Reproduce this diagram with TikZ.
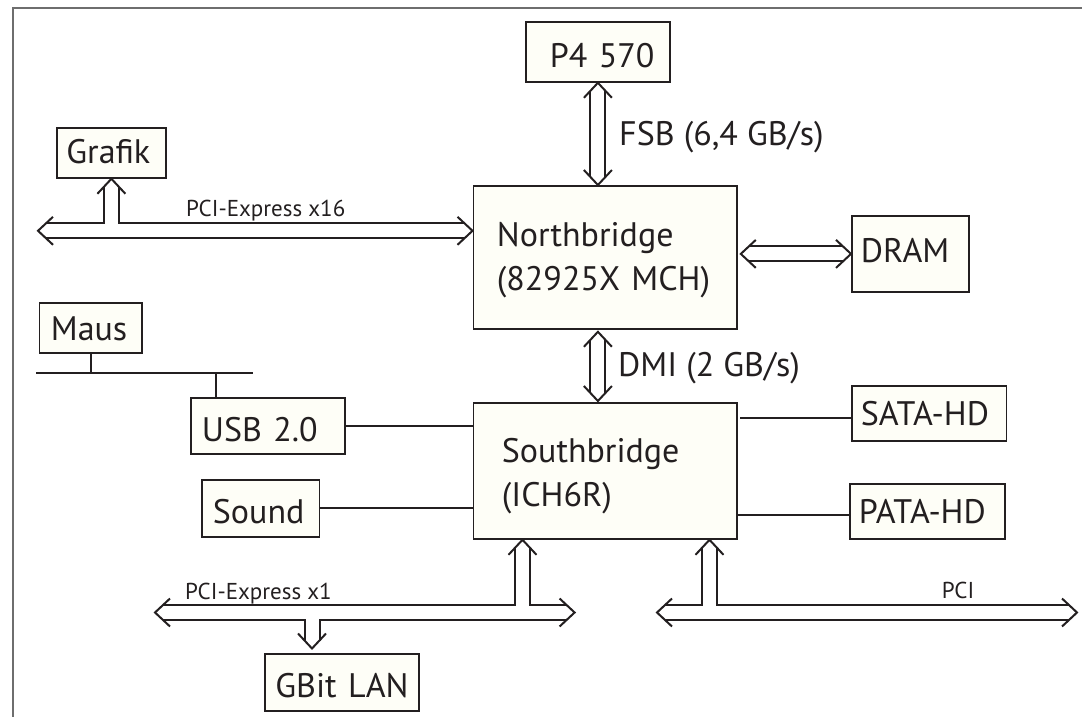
\documentclass[tikz,border=0pt]{standalone}
\usepackage{fontspec}
\setmainfont{PT Sans}
\usetikzlibrary{calc}
\definecolor{ink}{HTML}{231F20}
\definecolor{boxfill}{HTML}{FEFEF7}
\definecolor{framegray}{HTML}{6E6E6E}
\begin{document}
\begin{tikzpicture}[x=1pt,y=-1pt,
  every node/.style={text=ink},
  box/.style={draw=ink, line width=1.8pt, fill=boxfill, anchor=north west, align=left, inner ysep=0pt, font=\fontsize{34}{44}\selectfont},
  bus/.style={draw=ink, line width=2pt, double=white, double distance=13pt},
  wire/.style={draw=ink, line width=2pt},
  lbl/.style={anchor=base west, inner sep=0pt, font=\fontsize{34}{40}\selectfont},
  slbl/.style={anchor=base west, inner sep=0pt, font=\fontsize{23}{28}\selectfont},
  chev/.pic={\draw[ink, line width=2pt, line join=miter] (-15,-14) -- (0,0) -- (-15,14);}
]
\useasboundingbox (0,0) rectangle (1082,717);
% frame
\draw[framegray, line width=2pt] (12.5,717) -- (12.5,8.5) -- (1082,8.5);

% boxes
\node[box, text width=96pt, inner xsep=24pt, minimum height=60pt, text height=32pt, text depth=0pt] (p4) at (525,21) {P4~570};
\node[box, text width=90pt, inner xsep=9.5pt, minimum height=50pt, text height=22pt, text depth=0pt] (grafik) at (56,127) {Grafik};
\node[box, text width=79.6pt, inner xsep=11.4pt, minimum height=50pt, text height=26pt, text depth=0pt] (maus) at (38.6,302) {Maus};
\node[box, text width=216.5pt, inner xsep=23.5pt, minimum height=143pt, text height=0pt, text depth=22pt] (nb) at (472.5,185) {Northbridge\\(82925X~MCH)};
\node[box, text width=99pt, inner xsep=9pt, minimum height=76pt, text height=18pt, text depth=0pt] (dram) at (851,215) {DRAM};
\node[box, text width=132pt, inner xsep=11pt, minimum height=56pt, text height=32pt, text depth=0pt] (usb) at (190,397) {USB~2.0};
\node[box, text width=95.5pt, inner xsep=11pt, minimum height=57pt, text height=31pt, text depth=0pt] (sound) at (201,479) {Sound};
\node[box, text width=206.5pt, inner xsep=28.5pt, minimum height=136pt, text height=0pt, text depth=16pt] (sb) at (472.5,402) {Southbridge\\(ICH6R)};
\node[box, text width=136.5pt, inner xsep=9pt, minimum height=55pt, text height=25pt, text depth=0pt] (sata) at (851,385) {SATA-HD};
\node[box, text width=137pt, inner xsep=9pt, minimum height=55pt, text height=25pt, text depth=0pt] (pata) at (849,483) {PATA-HD};
\node[box, text width=133pt, inner xsep=10.5pt, minimum height=57pt, text height=31pt, text depth=0pt] (gbit) at (264,653) {GBit~LAN};

% labels
\node[lbl] (fsb) at (619,145) {FSB (6,4 GB/s)};
\node[lbl] (dmi) at (618,376) {DMI (2 GB/s)};
\node[slbl] (lx16) at (186,216) {PCI-Express x16};
\node[slbl] (lx1) at (185,599) {PCI-Express x1};
\node[slbl] (lpci) at (941.7,598) {PCI};

% named free ends
\coordinate (x16L) at (38,230.8);
\coordinate (x1L) at (155,612.5);
\coordinate (x1R) at (574.6,612.5);
\coordinate (x1Up) at (522.5,612.5);
\coordinate (lanTip) at (312,648.5);
\coordinate (pciL) at (657,612.5);
\coordinate (pciR) at (1077,612.5);
\coordinate (pciUp) at (709.5,612.5);
\coordinate (mausBusL) at (36,373);
\coordinate (mausBusR) at (253,373);
\coordinate (usbRiser) at (216,373);
\coordinate (sataY) at (740,418);
\coordinate (pataY) at (738,515);

% plain wires
\draw[wire] (mausBusL) -- (mausBusR);
\draw[wire] (maus.south) -- (maus.south|-mausBusL);
\draw[wire] (usbRiser) -- (usbRiser|-usb.north);
\draw[wire] (usb.east) -- (sb.west|-usb.east);
\draw[wire] (sound.east) -- (sb.west|-sound.east);
\draw[wire] (sataY) -- (sata.west|-sataY);
\draw[wire] (pataY) -- (pata.west|-pataY);

% FSB
\draw[bus] ($(p4.south)+(0,8)$) -- ($(p4.south|-nb.north)+(0,-8)$);
\pic[rotate=90] at (p4.south) {chev};
\pic[rotate=-90] at (p4.south|-nb.north) {chev};
% DMI
\draw[bus] ($(p4.south|-nb.south)+(0,10)$) -- ($(p4.south|-sb.north)+(0,-9)$);
\pic[rotate=90] at ($(p4.south|-nb.south)+(0,2)$) {chev};
\pic[rotate=-90] at ($(p4.south|-sb.north)+(0,-1)$) {chev};
% DRAM
\draw[bus] ($(nb.east|-dram.west)+(11,0)$) -- ($(dram.west)+(-8,0)$);
\pic[rotate=180] at ($(nb.east|-dram.west)+(3,0)$) {chev};
\pic at (dram.west) {chev};
% PCI-Express x16
\draw[bus] ($(x16L)+(8,0)$) -- ($(nb.west|-x16L)+(-8,0)$)
  (grafik.south|-x16L) -- ($(grafik.south)+(0,8)$);
\pic[rotate=180] at (x16L) {chev};
\pic at (nb.west|-x16L) {chev};
\pic[rotate=90] at (grafik.south) {chev};
% PCI-Express x1
\draw[bus] ($(x1L)+(8,0)$) -- ($(x1R)+(-8,0)$)
  (x1Up) -- ($(x1Up|-sb.south)+(0,8)$)
  (lanTip|-x1L) -- ($(lanTip)+(0,-8)$);
\pic[rotate=180] at (x1L) {chev};
\pic at (x1R) {chev};
\pic[rotate=90] at (x1Up|-sb.south) {chev};
\pic[rotate=-90] at (lanTip) {chev};
% PCI
\draw[bus] ($(pciL)+(8,0)$) -- ($(pciR)+(-8,0)$)
  (pciUp) -- ($(pciUp|-sb.south)+(0,8)$);
\pic[rotate=180] at (pciL) {chev};
\pic at (pciR) {chev};
\pic[rotate=90] at (pciUp|-sb.south) {chev};
\end{tikzpicture}
\end{document}
